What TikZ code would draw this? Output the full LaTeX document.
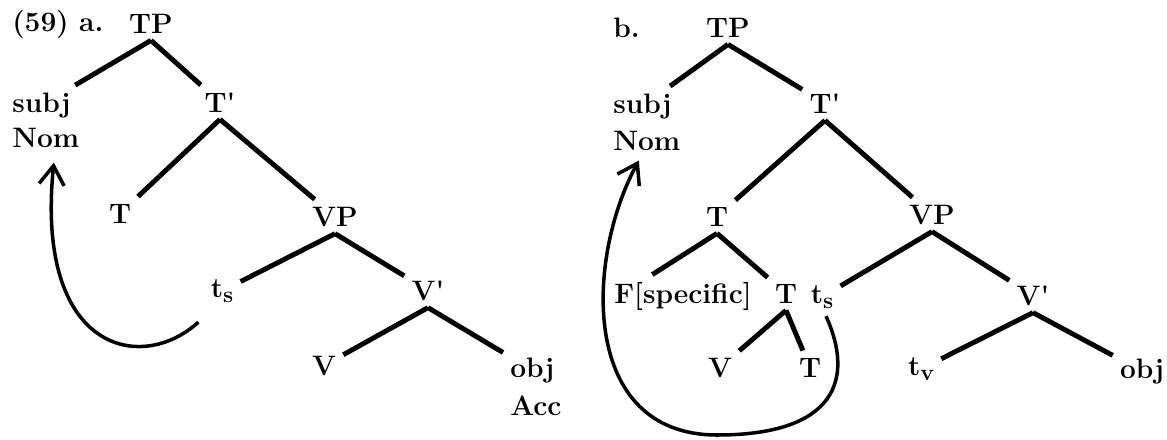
\documentclass[tikz,border=0pt]{standalone}
\usepackage{tikz}
\usetikzlibrary{arrows.meta}
\newcommand{\trc}[1]{t\raisebox{-3.2pt}{\fontsize{13}{13}\selectfont #1}}
\begin{document}
\begin{tikzpicture}[x=0.2mm, y=-0.2mm,
                every node/.style={font=\fontsize{16}{20}\selectfont\bfseries, inner sep=4pt},
                lab/.style={anchor=base west},
                cat/.style={anchor=base},
                branch/.style={line width=2.8pt},
                move/.style={line width=2pt, -{Straight Barb[length=3.8mm, width=5mm]}},
              ]
              \useasboundingbox (0,0) rectangle (1167,439);
              \node[lab] (exA) at (5,31) {(59) a.};
              \node[cat] (tpA) at (151,33) {TP};
              \node[lab] (subjA) at (5,112) {subj};
              \node[lab] (nomA) at (5,147) {Nom};
              \node[cat] (tbarA) at (220,112) {T\textquotesingle};
              \node[cat] (tA) at (120,223) {T};
              \node[cat] (vpA) at (335,226) {VP};
              \node[cat] (tsA) at (222,297) {\trc{s}};
              \node[cat] (vbarA) at (428,300) {V\textquotesingle};
              \node[cat] (vA) at (324,375) {V};
              \node[lab] (objA) at (503,377) {obj};
              \node[lab] (accA) at (503,415) {Acc};
              \draw[branch] (tpA.south) -- (subjA) (tpA.south) -- (tbarA);
              \draw[branch] (tbarA.south) -- (tA) (tbarA.south) -- (vpA);
              \draw[branch] (vpA.south) -- (tsA) (vpA.south) -- (vbarA);
              \draw[branch] (vbarA.south) -- (vA) (vbarA.south) -- (objA);
              \draw[move] ([shift={(-5,12)}]tsA.south west) .. controls (140,375) and (35,350) .. ([shift={(8,8)}]nomA.south);
              \node[lab] (exB) at (606,37) {b.};
              \node[cat] (tpB) at (728,37) {TP};
              \node[lab] (subjB) at (606,113) {subj};
              \node[lab] (nomB) at (606,150) {Nom};
              \node[cat] (tbarB) at (825,113) {T\textquotesingle};
              \node[cat] (tB) at (717,226) {T};
              \node[cat] (vpB) at (932,224) {VP};
              \node[cat] (fB) at (683,303) {F[specific]};
              \node[cat] (tmB) at (786,303) {T};
              \node[cat] (tsB) at (822,303) {\trc{s}};
              \node[cat] (vbarB) at (1033,305) {V\textquotesingle};
              \node[cat] (vB) at (720,377) {V};
              \node[cat] (tlB) at (810,377) {T};
              \node[cat] (tvB) at (921,375) {\trc{v}};
              \node[cat] (objB) at (1142,378) {obj};
              \draw[branch] (tpB.south) -- (subjB) (tpB.south) -- (tbarB);
              \draw[branch] (tbarB.south) -- (tB) (tbarB.south) -- (vpB);
              \draw[branch] (tB.south) -- (fB.145) (tB.south) -- (tmB);
              \draw[branch] (tmB.south) -- (vB) (tmB.south) -- (tlB);
              \draw[branch] (vpB.south) -- (tsB) (vpB.south) -- (vbarB);
              \draw[branch] (vbarB.south) -- (tvB) (vbarB.south) -- (objB);
              \draw[move] ([shift={(4,0)}]tsB.south) .. controls (855,380) and (835,435) .. (717,435)
                .. controls (580,435) and (585,260) .. ([shift={(-8,3)}]nomB.south);
            \end{tikzpicture}
\end{document}
